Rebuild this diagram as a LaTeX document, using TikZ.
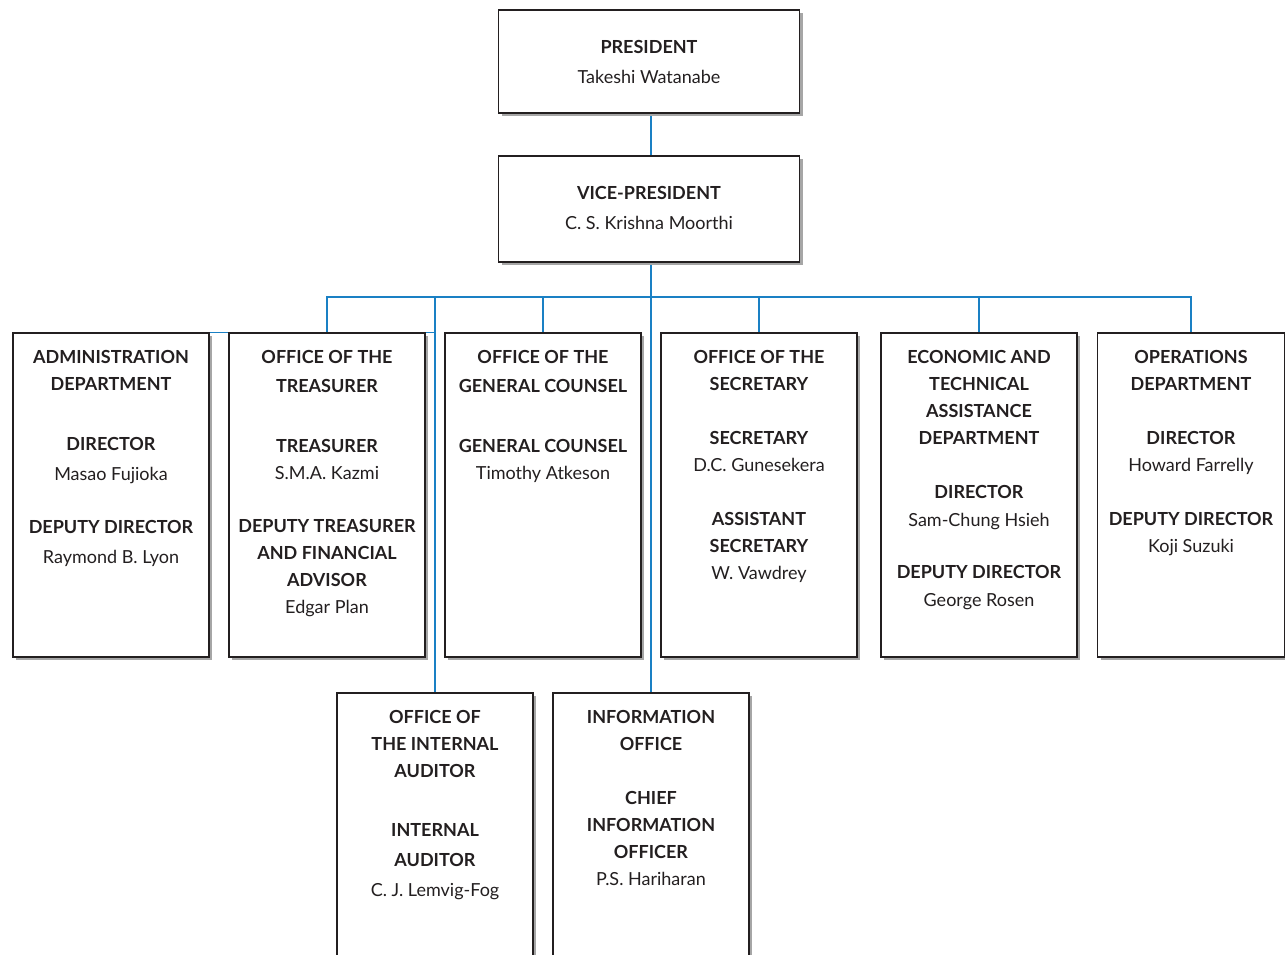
\documentclass[tikz,border=0pt]{standalone}
\usepackage{fontspec}
\setmainfont{Lato}
\usetikzlibrary{positioning,shadows}
\definecolor{linkblue}{HTML}{1A80C4}
\definecolor{ink}{HTML}{231F20}
\pgfdeclarelayer{wires}
\pgfsetlayers{wires,main}
\tikzset{>=latex,
    unit/.style={draw=ink, line width=1.1pt, fill=white, minimum width=196pt,
        drop shadow={shadow xshift=3pt, shadow yshift=-3pt, fill=black!35, opacity=1}},
    caption/.style={align=center, inner sep=0pt, text=ink,
        font=\fontsize{18}{27}\selectfont},
    link/.style={color=linkblue, line width=1.2pt}}
\newcommand{\ttl}[1]{\textbf{#1}}

\begin{document}
\begin{tikzpicture}[x=1pt, y=-1pt]
    \useasboundingbox (0,0) rectangle (1285,955);
    % boxes
    \node[unit, minimum width=301pt, minimum height=103pt] at (649,61.5) (pres) {};
    \node[unit, minimum width=301pt, minimum height=106pt] at (649,209) (vp) {};
    \node[unit, minimum height=324pt] at (111,495) (admin) {};
    \node[unit, minimum height=324pt] at (327,495) (treas) {};
    \node[unit, minimum height=324pt] at (543,495) (couns) {};
    \node[unit, minimum height=324pt] at (759,495) (secr) {};
    \node[unit, minimum height=324pt] at (979,495) (econ) {};
    \node[unit, minimum width=187pt, minimum height=324pt] at (1191,495) (oper) {};
    \node[unit, minimum height=280pt] at (435,833) (audit) {};
    \node[unit, minimum height=280pt] at (651,833) (info) {};
    % connectors, kept under the boxes
    \begin{pgfonlayer}{wires}
    \coordinate (bus) at (651,297);
    \draw[link] (pres.south -| info.north) -- (vp.south -| info.north);
    \draw[link] (vp.south -| info.north) -- (info.north);
    \draw[link] (treas.north) |- (bus) -| (oper.north);
    \foreach \n in {couns, secr, econ}
        \draw[link] (\n.north) -- (\n.north |- bus);
    \draw[link] (audit.north) -- (audit.north |- bus);
    \draw[link] (admin.north east) -- (admin.north east -| audit.north);
    \end{pgfonlayer}
    % texts
    \node[caption, below=31pt of pres.north] (pres-t) {\ttl{PRESIDENT}\\[3pt]Takeshi Watanabe};
    \node[caption, below=31pt of vp.north] (vp-t) {\ttl{VICE-PRESIDENT}\\[3pt]C. S. Krishna Moorthi};
    \node[caption, below=18pt of admin.north] (admin-t) {\ttl{ADMINISTRATION}\\\ttl{DEPARTMENT}\\[33pt]%
        \ttl{DIRECTOR}\\[3pt]Masao Fujioka\\[26pt]\ttl{DEPUTY DIRECTOR}\\[3pt]Raymond B. Lyon};
    \node[caption, below=18pt of treas.north] (treas-t) {\ttl{OFFICE OF THE}\\[2pt]\ttl{TREASURER}\\[33pt]%
        \ttl{TREASURER}\\S.M.A. Kazmi\\[26pt]\ttl{DEPUTY TREASURER}\\\ttl{AND FINANCIAL}\\\ttl{ADVISOR}\\Edgar Plan};
    \node[caption, below=18pt of couns.north] (couns-t) {\ttl{OFFICE OF THE}\\[2pt]\ttl{GENERAL COUNSEL}\\[33pt]%
        \ttl{GENERAL COUNSEL}\\Timothy Atkeson};
    \node[caption, below=18pt of secr.north] (secr-t) {\ttl{OFFICE OF THE}\\\ttl{SECRETARY}\\[27pt]%
        \ttl{SECRETARY}\\D.C. Gunesekera\\[27pt]\ttl{ASSISTANT}\\\ttl{SECRETARY}\\W. Vawdrey};
    \node[caption, below=18pt of econ.north] (econ-t) {\ttl{ECONOMIC AND}\\\ttl{TECHNICAL}\\\ttl{ASSISTANCE}\\\ttl{DEPARTMENT}\\[27pt]%
        \ttl{DIRECTOR}\\[1pt]Sam-Chung Hsieh\\[25pt]\ttl{DEPUTY DIRECTOR}\\[1pt]George Rosen};
    \node[caption, below=18pt of oper.north] (oper-t) {\ttl{OPERATIONS}\\\ttl{DEPARTMENT}\\[27pt]%
        \ttl{DIRECTOR}\\Howard Farrelly\\[27pt]\ttl{DEPUTY DIRECTOR}\\Koji Suzuki};
    \node[caption, below=18pt of audit.north] (audit-t) {\ttl{OFFICE OF}\\\ttl{THE INTERNAL}\\\ttl{AUDITOR}\\[32pt]%
        \ttl{INTERNAL}\\[3pt]\ttl{AUDITOR}\\[3pt]C. J. Lemvig-Fog};
    \node[caption, below=18pt of info.north] (info-t) {\ttl{INFORMATION}\\\ttl{OFFICE}\\[27pt]%
        \ttl{CHIEF}\\\ttl{INFORMATION}\\\ttl{OFFICER}\\P.S. Hariharan};
\end{tikzpicture}
\end{document}
